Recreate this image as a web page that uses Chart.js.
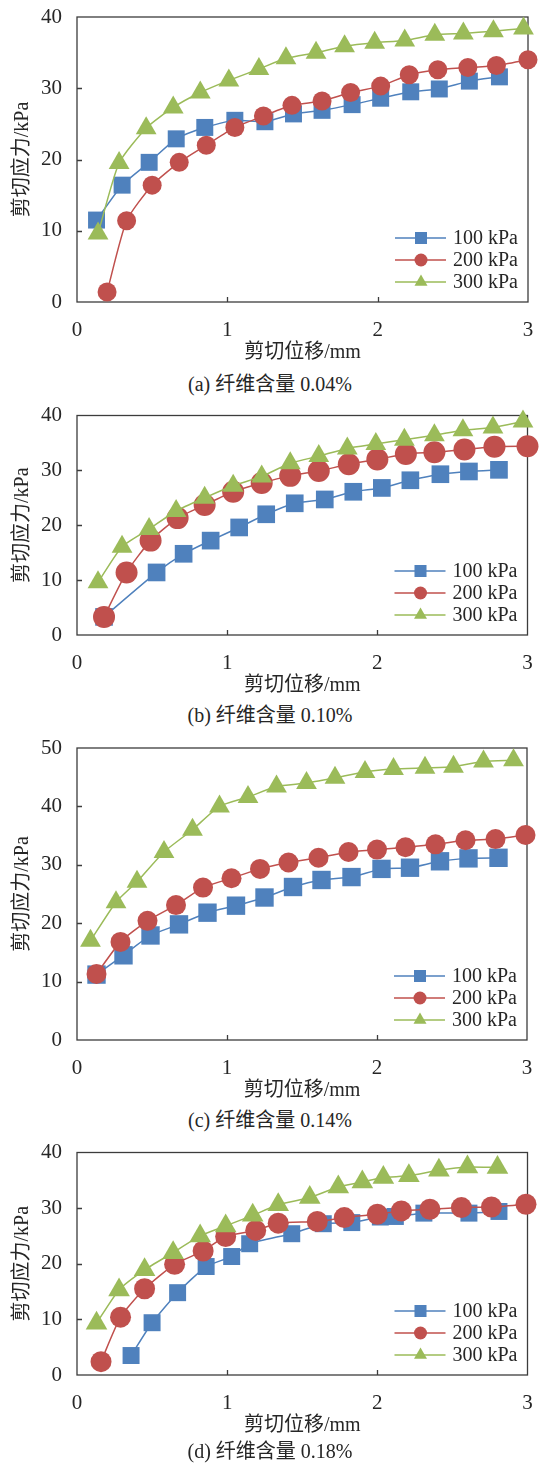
<!DOCTYPE html>
<html>
<head>
<meta charset="utf-8">
<title>剪切应力-剪切位移曲线</title>
<script src="https://cdn.jsdelivr.net/npm/chart.js"></script>
<style>
  body { margin: 0; background: #fff; }
  .page { position: relative; width: 540px; height: 1464px; }
  .panel { position: absolute; left: 0; width: 540px; }
  .caption {
    position: absolute; left: 0; width: 540px; text-align: center;
    font: 20px 'Liberation Serif', 'Noto Sans CJK SC', serif;
    line-height: 24px; color: #262626;
  }
</style>
</head>
<body>
<div class="page" id="page"></div>

<script>
// data
const seriesLabels = ['100 kPa', '200 kPa', '300 kPa'];
const captions = ['(a) 纤维含量 0.04%', '(b) 纤维含量 0.10%', '(c) 纤维含量 0.14%', '(d) 纤维含量 0.18%'];
const xTitle = '剪切位移/mm';
const yTitle = '剪切应力/kPa';
const yMax = [40, 40, 50, 40];

// (a) 0.04%
const a100x = [0.13, 0.30, 0.48, 0.66, 0.85, 1.05, 1.25, 1.44, 1.63, 1.83, 2.02, 2.22, 2.41, 2.61, 2.81];
const a100y = [11.5, 16.4, 19.6, 22.9, 24.5, 25.5, 25.3, 26.4, 26.9, 27.7, 28.6, 29.5, 29.9, 31.0, 31.6];
const a200x = [0.20, 0.33, 0.50, 0.68, 0.86, 1.05, 1.24, 1.43, 1.63, 1.82, 2.02, 2.21, 2.40, 2.60, 2.79, 3.00];
const a200y = [1.4, 11.4, 16.4, 19.6, 22.0, 24.5, 26.1, 27.6, 28.2, 29.4, 30.3, 31.9, 32.6, 32.9, 33.2, 34.0];
const a300x = [0.14, 0.28, 0.46, 0.64, 0.82, 1.01, 1.21, 1.39, 1.59, 1.78, 1.98, 2.18, 2.38, 2.57, 2.77, 2.97];
const a300y = [9.6, 19.5, 24.4, 27.3, 29.4, 31.1, 32.7, 34.2, 35.0, 35.9, 36.4, 36.7, 37.5, 37.7, 38.0, 38.4];

// (b) 0.10%
const b100x = [0.18, 0.53, 0.71, 0.89, 1.08, 1.26, 1.45, 1.65, 1.84, 2.03, 2.22, 2.42, 2.61, 2.81];
const b100y = [3.3, 11.4, 14.8, 17.2, 19.6, 22.0, 24.0, 24.7, 26.1, 26.8, 28.2, 29.3, 29.8, 30.1];
const b200x = [0.18, 0.33, 0.49, 0.67, 0.85, 1.04, 1.23, 1.42, 1.61, 1.81, 2.00, 2.19, 2.38, 2.58, 2.78, 3.00];
const b200y = [3.3, 11.4, 17.2, 21.3, 23.7, 26.1, 27.7, 29.0, 29.9, 31.1, 32.0, 33.0, 33.3, 33.8, 34.3, 34.4];
const b300x = [0.14, 0.30, 0.48, 0.66, 0.85, 1.04, 1.23, 1.42, 1.61, 1.80, 1.99, 2.18, 2.38, 2.57, 2.77, 2.97];
const b300y = [9.6, 16.1, 19.3, 22.6, 25.0, 27.2, 28.9, 31.3, 32.6, 34.0, 34.8, 35.6, 36.4, 37.3, 37.8, 38.9];

// (c) 0.14%
const c100x = [0.13, 0.31, 0.49, 0.68, 0.87, 1.06, 1.25, 1.44, 1.63, 1.83, 2.03, 2.22, 2.42, 2.61, 2.81];
const c100y = [11.2, 14.5, 17.9, 19.8, 21.8, 23.0, 24.4, 26.2, 27.4, 27.9, 29.3, 29.5, 30.6, 31.1, 31.2];
const c200x = [0.13, 0.29, 0.47, 0.66, 0.84, 1.03, 1.22, 1.41, 1.61, 1.81, 2.00, 2.19, 2.39, 2.59, 2.79, 2.99];
const c200y = [11.3, 16.8, 20.4, 23.1, 26.1, 27.7, 29.3, 30.4, 31.2, 32.2, 32.6, 33.0, 33.5, 34.2, 34.4, 35.1];
const c300x = [0.09, 0.26, 0.40, 0.58, 0.77, 0.95, 1.14, 1.33, 1.53, 1.72, 1.92, 2.11, 2.32, 2.51, 2.71, 2.91];
const c300y = [17.0, 23.6, 27.1, 32.2, 36.0, 40.0, 41.6, 43.4, 44.0, 44.9, 45.9, 46.4, 46.6, 46.8, 47.7, 47.9];

// (d) 0.18%
const d100x = [0.36, 0.50, 0.67, 0.86, 1.03, 1.15, 1.43, 1.64, 1.83, 2.02, 2.12, 2.31, 2.61, 2.81];
const d100y = [3.5, 9.4, 14.8, 19.5, 21.3, 23.6, 25.4, 27.2, 27.4, 28.4, 28.5, 29.1, 29.1, 29.4];
const d200x = [0.16, 0.29, 0.45, 0.65, 0.84, 0.99, 1.19, 1.34, 1.60, 1.78, 2.00, 2.16, 2.35, 2.56, 2.76, 2.99];
const d200y = [2.4, 10.4, 15.5, 19.9, 22.3, 24.9, 26.0, 27.3, 27.6, 28.3, 28.9, 29.5, 29.8, 30.1, 30.2, 30.7];
const d300x = [0.13, 0.28, 0.45, 0.64, 0.82, 0.99, 1.17, 1.34, 1.55, 1.74, 1.90, 2.04, 2.21, 2.41, 2.60, 2.80];
const d300y = [9.3, 15.3, 18.9, 22.0, 25.0, 26.8, 28.7, 30.6, 31.9, 33.8, 34.7, 35.5, 35.8, 36.8, 37.4, 37.3];

const panelData = [
  [[a100x, a100y], [a200x, a200y], [a300x, a300y]],
  [[b100x, b100y], [b200x, b200y], [b300x, b300y]],
  [[c100x, c100y], [c200x, c200y], [c300x, c300y]],
  [[d100x, d100y], [d200x, d200y], [d300x, d300y]]
];

// layout / style
const fam = "'Liberation Serif', 'Noto Sans CJK SC', serif";
const textColor = '#262626';
const colors = ['#4F81BD', '#C0504D', '#9BBB59'];
const styles = ['rect', 'circle', 'triangle'];
const legendR = { rect: 8.5, circle: 6.5, triangle: 7.5 };
const layout = [
  { top: 5,    height: 364, capY: 372,  radii: [12, 9.5, 12] },
  { top: 403,  height: 299, capY: 703,  radii: [12.5, 11, 12] },
  { top: 735,  height: 372, capY: 1108, radii: [13, 10, 12] },
  { top: 1140, height: 302, capY: 1439, radii: [12, 10.5, 12.5] }
];

const frame = {
  id: 'frame',
  beforeDatasetsDraw(chart) {
    const { ctx, chartArea: a, scales: { x, y } } = chart;
    ctx.save();
    ctx.strokeStyle = '#3c3c3c';
    ctx.lineWidth = 1.3;
    ctx.strokeRect(a.left, a.top, a.right - a.left, a.bottom - a.top);
    ctx.beginPath();
    x.ticks.forEach(t => {
      const px = Math.round(x.getPixelForValue(t.value)) + 0.5;
      if (px > a.left + 2 && px < a.right - 2) { ctx.moveTo(px, a.bottom); ctx.lineTo(px, a.bottom - 5); }
    });
    y.ticks.forEach(t => {
      const py = Math.round(y.getPixelForValue(t.value)) + 0.5;
      if (py > a.top + 2 && py < a.bottom - 2) { ctx.moveTo(a.left, py); ctx.lineTo(a.left + 5, py); }
    });
    ctx.stroke();
    ctx.restore();
  },
  afterDatasetsDraw(chart) {
    const { ctx, chartArea: a } = chart;
    const rows = [-64, -42, -20];
    ctx.save();
    chart.data.datasets.forEach((ds, i) => {
      const yy = a.bottom + rows[i];
      ctx.strokeStyle = ds.borderColor;
      ctx.lineWidth = 1.5;
      ctx.beginPath();
      ctx.moveTo(a.right - 133, yy);
      ctx.lineTo(a.right - 82, yy);
      ctx.stroke();
      ctx.fillStyle = ds.backgroundColor;
      Chart.helpers.drawPoint(ctx, { pointStyle: ds.pointStyle, radius: legendR[ds.pointStyle], borderWidth: 0, rotation: 0 }, a.right - 107, yy);
      ctx.fillStyle = textColor;
      ctx.font = '20px ' + fam;
      ctx.textAlign = 'left';
      ctx.textBaseline = 'middle';
      ctx.fillText(ds.label, a.right - 75, yy + 1);
    });
    ctx.restore();
  }
};

const page = document.getElementById('page');

layout.forEach((p, k) => {
  const box = document.createElement('div');
  box.className = 'panel';
  box.style.top = p.top + 'px';
  box.style.height = p.height + 'px';
  const cv = document.createElement('canvas');
  cv.width = 540;
  cv.height = p.height;
  box.appendChild(cv);
  page.appendChild(box);

  const cap = document.createElement('div');
  cap.className = 'caption';
  cap.style.top = p.capY + 'px';
  cap.textContent = captions[k];
  page.appendChild(cap);

  const datasets = panelData[k].map((s, i) => ({
    label: seriesLabels[i],
    data: s[0].map((v, j) => ({ x: v, y: s[1][j] })),
    borderColor: colors[i],
    backgroundColor: colors[i],
    pointBackgroundColor: colors[i],
    pointBorderWidth: 0,
    pointStyle: styles[i],
    pointRadius: p.radii[i],
    pointHoverRadius: p.radii[i],
    borderWidth: 1.5,
    tension: 0.2,
    clip: false,
    order: 3 - i
  }));

  new Chart(cv, {
    type: 'line',
    data: { datasets },
    options: {
      responsive: false,
      animation: false,
      events: [],
      layout: { padding: { top: 12, right: 11, left: 0, bottom: 0 } },
      plugins: { legend: { display: false }, tooltip: { enabled: false } },
      scales: {
        x: {
          type: 'linear', min: 0, max: 3,
          ticks: { stepSize: 1, padding: 8, color: textColor, font: { family: fam, size: 21 } },
          grid: { display: false }, border: { display: false },
          title: { display: true, text: xTitle, color: textColor, font: { family: fam, size: 20 }, padding: { top: 0, bottom: 4 } },
          // fixed box so the plot area lands where the reference has it
          afterFit(s) { s.height = 67; s.paddingLeft = 0; s.paddingRight = 0; }
        },
        y: {
          type: 'linear', min: 0, max: yMax[k],
          ticks: { stepSize: 10, padding: 7, autoSkip: false, color: textColor, font: { family: fam, size: 21 } },
          grid: { display: false }, border: { display: false },
          title: { display: true, text: yTitle, color: textColor, font: { family: fam, size: 20 }, padding: { top: 11, bottom: 0 } },
          afterFit(s) { s.width = 77; s.paddingTop = 0; s.paddingBottom = 0; }
        }
      }
    },
    plugins: [frame]
  });
});
</script>
</body>
</html>
